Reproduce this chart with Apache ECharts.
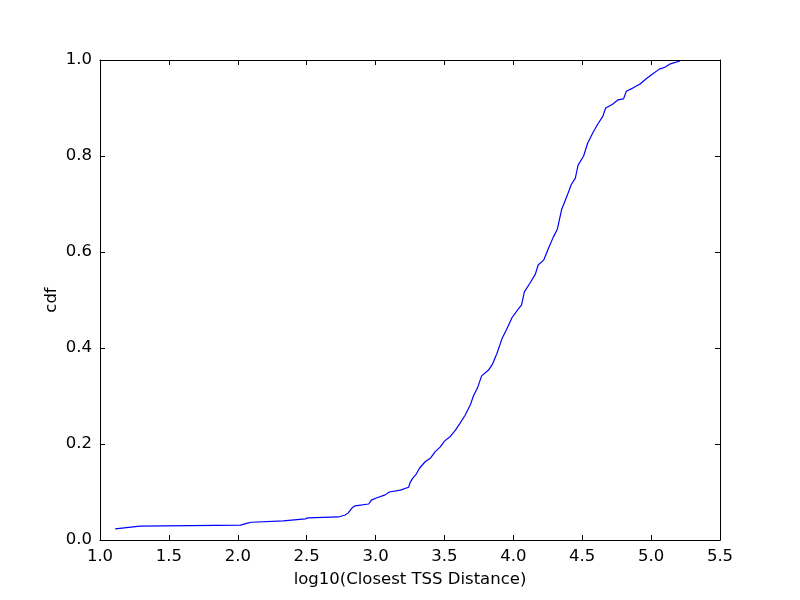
<!DOCTYPE html>
<html><head><meta charset="utf-8">
<script src="https://cdn.jsdelivr.net/npm/echarts@6/dist/echarts.min.js"></script>
<style>html,body{margin:0;padding:0;background:#fff}#c{width:800px;height:600px}</style>
</head><body><div id="c"></div>
<script>
const xVals = [1.11,1.29,2.02,2.07,2.10,2.33,2.34,2.49,2.51,2.73,2.78,2.80,2.83,2.85,2.95,2.97,3.01,3.07,3.10,3.18,3.24,3.25,3.27,3.29,3.32,3.36,3.40,3.43,3.47,3.50,3.54,3.58,3.61,3.65,3.69,3.71,3.74,3.77,3.82,3.85,3.88,3.92,3.95,3.99,4.03,4.06,4.08,4.12,4.16,4.18,4.22,4.25,4.29,4.32,4.35,4.39,4.42,4.45,4.47,4.51,4.54,4.58,4.61,4.65,4.67,4.72,4.76,4.80,4.82,4.87,4.92,4.96,5.01,5.06,5.10,5.14,5.21];
const cdfVals = [0.023,0.029,0.031,0.035,0.037,0.040,0.042,0.044,0.046,0.048,0.052,0.056,0.067,0.071,0.075,0.083,0.088,0.094,0.100,0.104,0.110,0.119,0.129,0.135,0.150,0.163,0.171,0.183,0.194,0.206,0.215,0.229,0.242,0.260,0.283,0.300,0.317,0.342,0.354,0.367,0.388,0.421,0.438,0.463,0.479,0.490,0.517,0.535,0.554,0.573,0.583,0.604,0.631,0.648,0.688,0.717,0.740,0.754,0.781,0.800,0.827,0.850,0.865,0.883,0.900,0.908,0.917,0.919,0.935,0.942,0.950,0.960,0.971,0.981,0.985,0.992,0.998];
const xTitle = 'log10(Closest TSS Distance)';
const yTitle = 'cdf';

const font = 'DejaVu Sans';
const fs = 16.5;
const lineStyle = {color:'#000', width:1};
const tick = {show:true, inside:true, length:5, lineStyle:{color:'#000', width:1}};
const chart = echarts.init(document.getElementById('c'));
chart.setOption({
  animation:false,
  grid:{left:100, right:80, top:60, bottom:60},
  xAxis:[{
    type:'value', min:1.0, max:5.5, interval:0.5, position:'bottom',
    name:xTitle, nameLocation:'middle', nameGap:31, nameMoveOverlap:false,
    nameTextStyle:{fontFamily:font, fontSize:fs, color:'#000'},
    axisLine:{show:true, onZero:false, lineStyle}, axisTick:tick,
    axisLabel:{fontFamily:font, fontSize:fs, color:'#000', margin:8, formatter:v=>v.toFixed(1)},
    splitLine:{show:false}
  },{
    type:'value', min:1.0, max:5.5, interval:0.5, position:'top',
    axisLine:{show:true, onZero:false, lineStyle}, axisTick:tick,
    axisLabel:{show:false}, splitLine:{show:false}
  }],
  yAxis:[{
    type:'value', min:0, max:1, interval:0.2, position:'left',
    name:yTitle, nameLocation:'middle', nameGap:40, nameRotate:90, nameMoveOverlap:false,
    nameTextStyle:{fontFamily:font, fontSize:fs, color:'#000'},
    axisLine:{show:true, onZero:false, lineStyle}, axisTick:tick,
    axisLabel:{fontFamily:font, fontSize:fs, color:'#000', margin:8, formatter:v=>v.toFixed(1)},
    splitLine:{show:false}
  },{
    type:'value', min:0, max:1, interval:0.2, position:'right',
    axisLine:{show:true, onZero:false, lineStyle}, axisTick:tick,
    axisLabel:{show:false}, splitLine:{show:false}
  }],
  series:[{
    type:'line', xAxisIndex:0, yAxisIndex:0,
    data:xVals.map((x,i)=>[x,cdfVals[i]]),
    showSymbol:false, lineStyle:{color:'#0000ff', width:1.2}, itemStyle:{color:'#0000ff'}
  }]
});
</script></body></html>
